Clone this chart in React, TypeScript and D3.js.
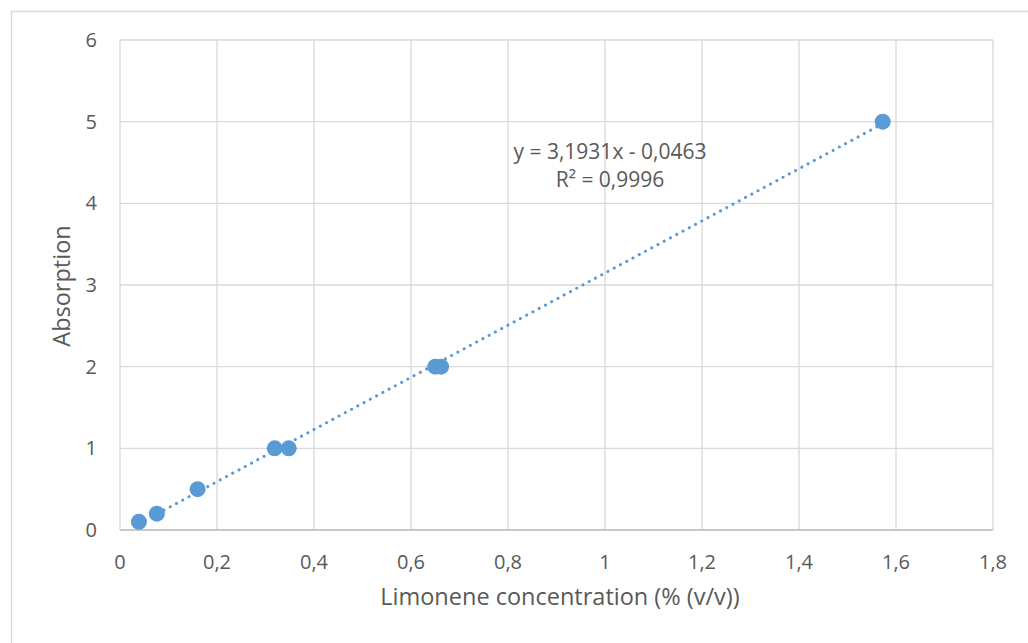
import React from "react";
import * as d3 from "d3";

const xValues = [0.039, 0.076, 0.16, 0.319, 0.348, 0.65, 0.662, 1.5726];
const yValues = [0.1, 0.2, 0.5, 1, 1, 2, 2, 5];
const xTicks = [0, 0.2, 0.4, 0.6, 0.8, 1, 1.2, 1.4, 1.6, 1.8];
const yTicks = [0, 1, 2, 3, 4, 5, 6];
const slope = 3.1931;
const intercept = -0.0463;
const equationLines = ["y = 3,1931x - 0,0463", "R² = 0,9996"];
const xTitle = "Limonene concentration (% (v/v))";
const yTitle = "Absorption";

const W = 1028;
const H = 643;
const plot = { left: 120, right: 993, top: 40, bottom: 530 };
const color = "#5B9BD5";
const grid = "#d9d9d9";
const textColor = "#595959";
const font = "'Open Sans', 'Noto Sans', sans-serif";

const fmt = (v: number) => String(v).replace(".", ",");

export default function App() {
  const x = d3.scaleLinear().domain([0, 1.8]).range([plot.left, plot.right]);
  const y = d3.scaleLinear().domain([0, 6]).range([plot.bottom, plot.top]);
  const xMin = d3.min(xValues)!;
  const xMax = d3.max(xValues)!;
  const line = d3.line<number>().x((d) => x(d)).y((d) => y(slope * d + intercept));

  return (
    <svg
      width={W}
      height={H}
      style={{ position: "absolute", left: 0, top: 0, background: "#fff" }}
      fontFamily={font}
    >
      <rect x={11.5} y={11.5} width={W + 10} height={H + 10} fill="#fff" stroke={grid} strokeWidth={1.5} />
      {yTicks.map((t) => (
        <line key={"gy" + t} x1={plot.left} x2={plot.right} y1={y(t)} y2={y(t)} stroke={grid} strokeWidth={1.3} />
      ))}
      {xTicks.map((t) => (
        <line key={"gx" + t} x1={x(t)} x2={x(t)} y1={plot.top} y2={plot.bottom} stroke={grid} strokeWidth={1.3} />
      ))}
      <line x1={plot.left} x2={plot.right} y1={plot.bottom} y2={plot.bottom} stroke="#bfbfbf" strokeWidth={1.3} />
      {yTicks.map((t) => (
        <text key={"ty" + t} x={97} y={y(t) + 7} textAnchor="end" fontSize={20} fill={textColor}>
          {fmt(t)}
        </text>
      ))}
      {xTicks.map((t) => (
        <text key={"tx" + t} x={x(t)} y={569} textAnchor="middle" fontSize={20} fill={textColor}>
          {fmt(t)}
        </text>
      ))}
      <text x={560} y={605} textAnchor="middle" fontSize={23.5} fill={textColor}>
        {xTitle}
      </text>
      <text
        transform={`translate(70, 286) rotate(-90)`}
        textAnchor="middle"
        fontSize={23.5}
        fill={textColor}
      >
        {yTitle}
      </text>
      <path
        d={line([xMin, xMax]) || ""}
        fill="none"
        stroke={color}
        strokeWidth={3}
        strokeLinecap="round"
        strokeDasharray="0.1 7"
      />
      {xValues.map((v, i) => (
        <circle key={"p" + i} cx={x(v)} cy={y(yValues[i])} r={8} fill={color} />
      ))}
      {equationLines.map((l, i) => (
        <text key={"eq" + i} x={610} y={159 + i * 28} textAnchor="middle" fontSize={21} fill={textColor}>
          {l}
        </text>
      ))}
    </svg>
  );
}
